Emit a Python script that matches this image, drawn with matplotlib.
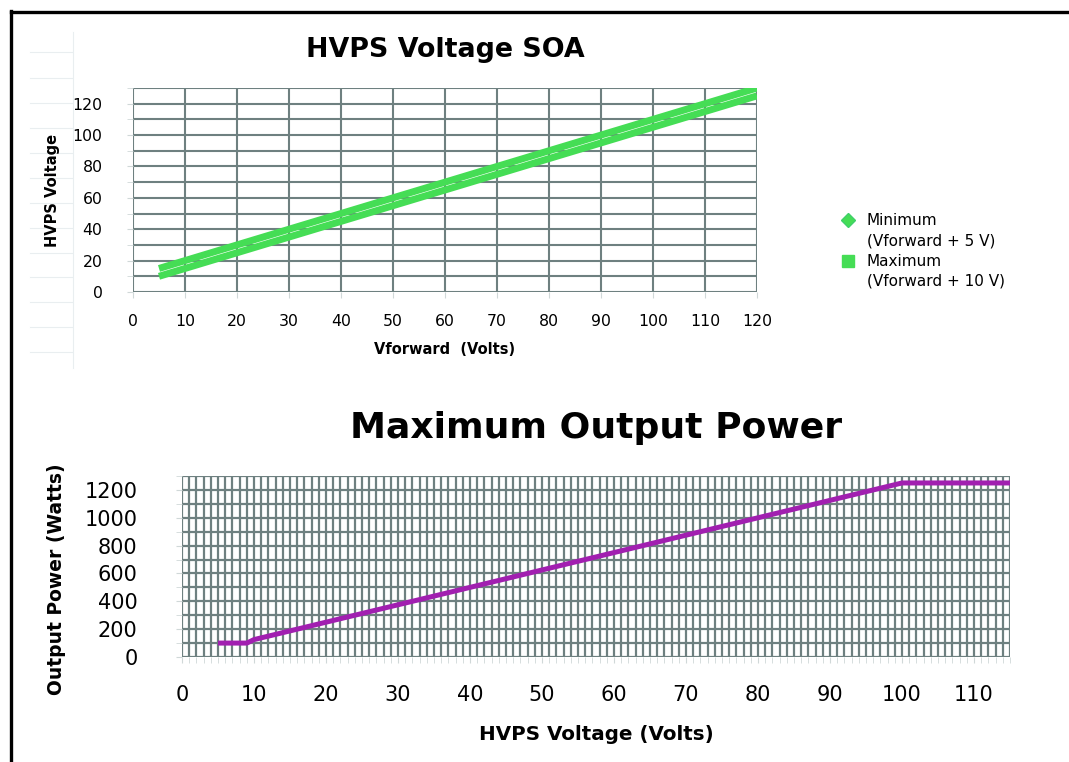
import matplotlib.pyplot as plt
from matplotlib.lines import Line2D
from matplotlib.ticker import MultipleLocator

# top chart: HVPS voltage window vs forward voltage
vforward = [5, 120]
hvps_min = [10, 125]   # Vforward + 5 V
hvps_max = [15, 130]   # Vforward + 10 V

# bottom chart: maximum output power vs HVPS voltage
hvps_volts = [5, 9, 10, 100, 115]
power_watts = [100, 100, 125, 1250, 1250]

W, H = 1069, 762
GRID = "#6e8080"
GREEN = "#45dd55"
PURPLE = "#a11fb0"


def fx(px):
    return px / W


def fy(py):
    return 1 - py / H


fig = plt.figure(figsize=(W / 100, H / 100), dpi=100)

# faint background rules on the left edge
for yy in [52, 78, 103, 128, 153, 178, 203, 228, 253, 277, 302, 327, 352]:
    fig.add_artist(Line2D([fx(30), fx(72)], [fy(yy), fy(yy)], color="#e9eef0", lw=0.8))
fig.add_artist(Line2D([fx(73), fx(73)], [fy(32), fy(368)], color="#e9eef0", lw=0.8))

# page border
fig.add_artist(Line2D([fx(11), fx(1069)], [fy(12), fy(12)], color="black", lw=2.4))
fig.add_artist(Line2D([fx(11), fx(11)], [fy(11), fy(762)], color="black", lw=2.4))

# ---- top chart ----
ax1 = fig.add_axes([fx(133), fy(292), fx(757 - 133), (292 - 88) / H])
ax1.plot(vforward, hvps_min, color=GREEN, lw=5.0, solid_capstyle="butt")
ax1.plot(vforward, hvps_max, color=GREEN, lw=5.0, solid_capstyle="butt")
ax1.set_xlim(0, 120)
ax1.set_ylim(0, 130)
ax1.xaxis.set_major_locator(MultipleLocator(10))
ax1.yaxis.set_major_locator(MultipleLocator(20))
ax1.yaxis.set_minor_locator(MultipleLocator(10))
ax1.grid(True, which="both", color=GRID, lw=1.5)
ax1.set_axisbelow(True)
for s in ax1.spines.values():
    s.set_visible(False)
ax1.tick_params(axis="both", which="both", length=4, color="#d0d8d8", labelsize=11.3)
ax1.tick_params(axis="x", pad=12)
ax1.tick_params(axis="y", pad=18)
ax1.tick_params(axis="y", which="minor", length=4)

fig.text(fx(445), fy(50), "HVPS Voltage SOA", ha="center", va="center",
         fontsize=19.4, fontweight="bold")
fig.text(fx(445), fy(350), "Vforward  (Volts)", ha="center", va="center",
         fontsize=10.5, fontweight="bold")
fig.text(fx(53), fy(190), "HVPS Voltage", ha="center", va="center",
         fontsize=10.5, fontweight="bold", rotation=90)

# legend drawn by hand so markers sit on the first text line
fig.add_artist(Line2D([fx(848)], [fy(220)], marker="D", ms=7, color=GREEN,
                      markeredgecolor="#3fcf6a", ls="none"))
fig.add_artist(Line2D([fx(848)], [fy(261)], marker="s", ms=8.5, color=GREEN, ls="none"))
fig.text(fx(867), fy(220), "Minimum", va="center", fontsize=11)
fig.text(fx(867), fy(241), "(Vforward + 5 V)", va="center", fontsize=11)
fig.text(fx(867), fy(261), "Maximum", va="center", fontsize=11)
fig.text(fx(867), fy(281), "(Vforward + 10 V)", va="center", fontsize=11)

# ---- bottom chart ----
ax2 = fig.add_axes([fx(182), fy(657), fx(1010 - 182), (657 - 476) / H])
ax2.plot(hvps_volts, power_watts, color=PURPLE, lw=3.6, solid_capstyle="butt")
ax2.set_xlim(0, 115)
ax2.set_ylim(0, 1300)
ax2.xaxis.set_major_locator(MultipleLocator(10))
ax2.xaxis.set_minor_locator(MultipleLocator(1))
ax2.yaxis.set_major_locator(MultipleLocator(200))
ax2.yaxis.set_minor_locator(MultipleLocator(100))
ax2.grid(True, which="both", color=GRID, lw=1.6)
ax2.set_axisbelow(True)
for s in ax2.spines.values():
    s.set_visible(False)
ax2.tick_params(axis="both", which="both", length=4, color="#d0d8d8", labelsize=15)
ax2.tick_params(axis="x", pad=16)
ax2.tick_params(axis="y", pad=28)

fig.text(fx(596), fy(428), "Maximum Output Power", ha="center", va="center",
         fontsize=26, fontweight="bold")
fig.text(fx(596), fy(735), "HVPS Voltage (Volts)", ha="center", va="center",
         fontsize=14.3, fontweight="bold")
fig.text(fx(57), fy(579), "Output Power (Watts)", ha="center", va="center",
         fontsize=13.5, fontweight="bold", rotation=90)

fig.savefig("out.png", dpi=100)
